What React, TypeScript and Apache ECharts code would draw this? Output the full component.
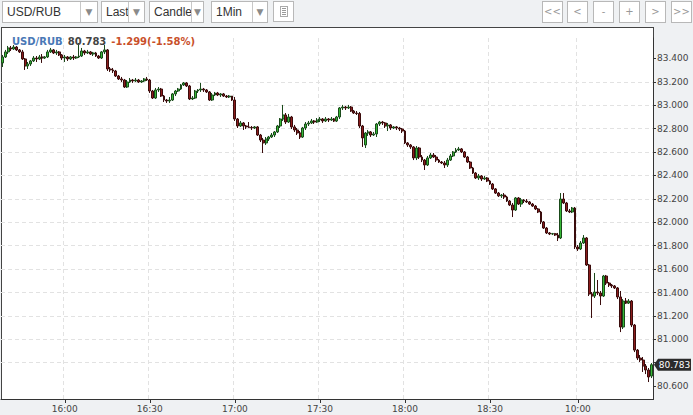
import React, { useEffect, useRef } from "react";
import * as echarts from "echarts";

// trading sessions (1-minute candles)
const sessions: [string, string][] = [
  ["15:38", "19:00"],
  ["10:00", "10:26"],
];
const xTickLabels = ["16:00", "16:30", "17:00", "17:30", "18:00", "18:30", "10:00"];
const yTicks = [80.6, 80.8, 81.0, 81.2, 81.4, 81.6, 81.8, 82.0, 82.2, 82.4, 82.6, 82.8, 83.0, 83.2, 83.4];
const yMin = 80.49;
const yMax = 83.575;
const symbolName = "USD/RUB";
const lastPrice = 80.783;
const change = -1.299;
const changePct = -1.58;

// [open, close, low, high]
const ohlc: number[][] = [
  [83.362, 83.413, 83.327, 83.430], [83.413, 83.456, 83.404, 83.473], [83.456, 83.490, 83.438, 83.507], [83.490, 83.481, 83.464, 83.507],
  [83.481, 83.498, 83.473, 83.515], [83.498, 83.473, 83.464, 83.507], [83.473, 83.456, 83.447, 83.481], [83.456, 83.396, 83.387, 83.473],
  [83.396, 83.336, 83.302, 83.404], [83.336, 83.353, 83.310, 83.370], [83.353, 83.379, 83.336, 83.387], [83.379, 83.404, 83.370, 83.421],
  [83.404, 83.396, 83.370, 83.421], [83.396, 83.413, 83.387, 83.430], [83.413, 83.404, 83.362, 83.438], [83.404, 83.413, 83.396, 83.421],
  [83.413, 83.456, 83.404, 83.473], [83.456, 83.473, 83.447, 83.490], [83.473, 83.447, 83.438, 83.481], [83.447, 83.456, 83.430, 83.473],
  [83.456, 83.430, 83.421, 83.464], [83.430, 83.404, 83.387, 83.438], [83.404, 83.413, 83.370, 83.430], [83.413, 83.396, 83.379, 83.421],
  [83.396, 83.413, 83.387, 83.421], [83.413, 83.404, 83.387, 83.430], [83.404, 83.413, 83.396, 83.421], [83.413, 83.421, 83.404, 83.532],
  [83.421, 83.464, 83.413, 83.490], [83.464, 83.447, 83.430, 83.473], [83.447, 83.456, 83.438, 83.473], [83.456, 83.438, 83.430, 83.464],
  [83.438, 83.447, 83.421, 83.456], [83.447, 83.421, 83.413, 83.456], [83.421, 83.404, 83.396, 83.430], [83.404, 83.456, 83.396, 83.464],
  [83.456, 83.473, 83.438, 83.515], [83.473, 83.310, 83.293, 83.481], [83.310, 83.302, 83.285, 83.327], [83.302, 83.293, 83.276, 83.319],
  [83.293, 83.250, 83.242, 83.302], [83.250, 83.225, 83.216, 83.259], [83.225, 83.216, 83.199, 83.242], [83.216, 83.156, 83.148, 83.225],
  [83.156, 83.199, 83.148, 83.216], [83.199, 83.216, 83.191, 83.233], [83.216, 83.208, 83.191, 83.225], [83.208, 83.216, 83.199, 83.233],
  [83.216, 83.199, 83.191, 83.225], [83.199, 83.208, 83.191, 83.216], [83.208, 83.225, 83.199, 83.233], [83.225, 83.216, 83.208, 83.242],
  [83.216, 83.122, 83.105, 83.225], [83.122, 83.062, 83.054, 83.131], [83.062, 83.131, 83.054, 83.148], [83.131, 83.139, 83.114, 83.156],
  [83.139, 83.079, 83.071, 83.148], [83.079, 83.045, 83.028, 83.088], [83.045, 83.037, 83.020, 83.054], [83.037, 83.045, 83.020, 83.071],
  [83.045, 83.097, 83.037, 83.105], [83.097, 83.122, 83.079, 83.131], [83.122, 83.139, 83.114, 83.148], [83.139, 83.174, 83.131, 83.182],
  [83.174, 83.191, 83.165, 83.199], [83.191, 83.165, 83.156, 83.199], [83.165, 83.054, 83.045, 83.174], [83.054, 83.062, 83.045, 83.079],
  [83.062, 83.122, 83.054, 83.131], [83.122, 83.131, 83.105, 83.139], [83.131, 83.139, 83.114, 83.191], [83.139, 83.131, 83.114, 83.148],
  [83.131, 83.114, 83.105, 83.139], [83.114, 83.045, 83.037, 83.122], [83.045, 83.088, 83.037, 83.105], [83.088, 83.105, 83.079, 83.114],
  [83.105, 83.088, 83.079, 83.114], [83.088, 83.097, 83.071, 83.105], [83.097, 83.079, 83.071, 83.105], [83.079, 83.071, 83.062, 83.088],
  [83.071, 83.079, 83.062, 83.088], [83.079, 83.045, 83.037, 83.079], [83.045, 82.883, 82.866, 83.071], [82.883, 82.823, 82.806, 82.891],
  [82.823, 82.849, 82.815, 82.866], [82.849, 82.823, 82.789, 82.857], [82.823, 82.815, 82.797, 82.832], [82.815, 82.811, 82.806, 82.857],
  [82.811, 82.806, 82.789, 82.823], [82.806, 82.815, 82.797, 82.823], [82.815, 82.746, 82.738, 82.823], [82.746, 82.703, 82.686, 82.755],
  [82.703, 82.678, 82.592, 82.721], [82.678, 82.712, 82.661, 82.729], [82.712, 82.729, 82.695, 82.738], [82.729, 82.746, 82.721, 82.763],
  [82.746, 82.772, 82.729, 82.780], [82.772, 82.823, 82.763, 82.832], [82.823, 82.883, 82.806, 82.891], [82.883, 82.917, 82.866, 83.003],
  [82.917, 82.857, 82.840, 82.934], [82.857, 82.900, 82.849, 82.926], [82.900, 82.815, 82.797, 82.909], [82.815, 82.789, 82.772, 82.832],
  [82.789, 82.763, 82.746, 82.806], [82.763, 82.729, 82.712, 82.780], [82.729, 82.806, 82.721, 82.815], [82.806, 82.840, 82.789, 82.857],
  [82.840, 82.849, 82.823, 82.866], [82.849, 82.866, 82.840, 82.883], [82.866, 82.857, 82.840, 82.874], [82.857, 82.874, 82.849, 82.891],
  [82.874, 82.883, 82.857, 82.900], [82.883, 82.866, 82.849, 82.891], [82.866, 82.883, 82.857, 82.900], [82.883, 82.874, 82.857, 82.891],
  [82.874, 82.883, 82.866, 82.900], [82.883, 82.866, 82.857, 82.891], [82.866, 82.900, 82.857, 82.909], [82.900, 82.977, 82.883, 82.985],
  [82.977, 82.985, 82.960, 83.003], [82.985, 82.977, 82.960, 82.994], [82.977, 82.985, 82.968, 83.003], [82.985, 82.951, 82.943, 82.994],
  [82.951, 82.934, 82.926, 82.960], [82.934, 82.930, 82.917, 82.951], [82.930, 82.823, 82.806, 82.943], [82.823, 82.721, 82.644, 82.832],
  [82.661, 82.763, 82.635, 82.772], [82.763, 82.772, 82.738, 82.789], [82.772, 82.746, 82.729, 82.780], [82.746, 82.755, 82.738, 82.772],
  [82.755, 82.840, 82.729, 82.849], [82.840, 82.857, 82.823, 82.866], [82.857, 82.849, 82.832, 82.866], [82.849, 82.823, 82.806, 82.857],
  [82.823, 82.832, 82.780, 82.849], [82.832, 82.806, 82.789, 82.840], [82.806, 82.815, 82.797, 82.823], [82.815, 82.806, 82.789, 82.823],
  [82.806, 82.797, 82.780, 82.815], [82.797, 82.780, 82.763, 82.806], [82.780, 82.678, 82.669, 82.789], [82.678, 82.661, 82.644, 82.686],
  [82.661, 82.644, 82.627, 82.669], [82.644, 82.550, 82.532, 82.652], [82.550, 82.635, 82.532, 82.652], [82.635, 82.558, 82.541, 82.644],
  [82.558, 82.532, 82.515, 82.575], [82.532, 82.490, 82.447, 82.541], [82.490, 82.550, 82.481, 82.567], [82.550, 82.575, 82.541, 82.592],
  [82.575, 82.558, 82.550, 82.592], [82.558, 82.532, 82.515, 82.575], [82.532, 82.515, 82.507, 82.541], [82.515, 82.507, 82.498, 82.524],
  [82.507, 82.490, 82.464, 82.524], [82.490, 82.532, 82.473, 82.550], [82.532, 82.567, 82.524, 82.584], [82.567, 82.601, 82.558, 82.609],
  [82.601, 82.618, 82.592, 82.635], [82.618, 82.627, 82.609, 82.644], [82.627, 82.601, 82.592, 82.635], [82.601, 82.558, 82.550, 82.609],
  [82.558, 82.515, 82.507, 82.567], [82.515, 82.464, 82.456, 82.524], [82.464, 82.421, 82.413, 82.473], [82.421, 82.379, 82.370, 82.430],
  [82.379, 82.396, 82.362, 82.413], [82.396, 82.370, 82.353, 82.404], [82.370, 82.379, 82.362, 82.396], [82.379, 82.353, 82.344, 82.387],
  [82.353, 82.327, 82.319, 82.362], [82.327, 82.285, 82.276, 82.336], [82.285, 82.250, 82.242, 82.293], [82.250, 82.226, 82.216, 82.259],
  [82.226, 82.233, 82.208, 82.242], [82.233, 82.216, 82.199, 82.250], [82.216, 82.182, 82.174, 82.226], [82.182, 82.148, 82.139, 82.191],
  [82.148, 82.105, 82.045, 82.165], [82.105, 82.208, 82.097, 82.216], [82.208, 82.156, 82.148, 82.216], [82.156, 82.191, 82.131, 82.208],
  [82.191, 82.182, 82.165, 82.199], [82.182, 82.174, 82.165, 82.199], [82.174, 82.156, 82.148, 82.182], [82.156, 82.139, 82.131, 82.165],
  [82.139, 82.114, 82.105, 82.148], [82.114, 82.088, 82.079, 82.122], [82.088, 82.003, 81.985, 82.097], [82.003, 81.951, 81.943, 82.011],
  [81.951, 81.909, 81.900, 81.960], [81.909, 81.900, 81.891, 81.917], [81.900, 81.903, 81.891, 81.909], [81.903, 81.891, 81.883, 81.909],
  [81.891, 81.866, 81.840, 81.909], [81.866, 82.199, 81.857, 82.250], [82.199, 82.165, 82.156, 82.250], [82.165, 82.097, 82.088, 82.174],
  [82.097, 82.088, 82.079, 82.114], [82.088, 82.122, 82.079, 82.131], [82.122, 81.789, 81.772, 82.131],
  [81.789, 81.772, 81.755, 81.806], [81.772, 81.823, 81.763, 81.840], [81.823, 81.866, 81.815, 81.891], [81.866, 81.635, 81.627, 81.874],
  [81.635, 81.387, 81.370, 81.644], [81.387, 81.370, 81.182, 81.404], [81.370, 81.404, 81.353, 81.567], [81.404, 81.396, 81.379, 81.507],
  [81.396, 81.370, 81.293, 81.413], [81.370, 81.541, 81.362, 81.550], [81.541, 81.481, 81.464, 81.550], [81.481, 81.464, 81.447, 81.490],
  [81.464, 81.456, 81.439, 81.473], [81.456, 81.439, 81.430, 81.464], [81.439, 81.362, 81.344, 81.447], [81.362, 81.105, 81.062, 81.413],
  [81.105, 81.327, 81.088, 81.344], [81.327, 81.310, 81.302, 81.353], [81.310, 81.327, 81.302, 81.344], [81.327, 81.122, 81.105, 81.336],
  [81.122, 80.908, 80.891, 81.131], [80.908, 80.840, 80.823, 80.917], [80.840, 80.823, 80.806, 80.866], [80.823, 80.772, 80.721, 80.849],
  [80.772, 80.738, 80.703, 80.789], [80.738, 80.678, 80.635, 80.755], [80.686, 80.783, 80.669, 80.797],
];

function buildTimes(): string[] {
  const out: string[] = [];
  const pad = (n: number) => String(n).padStart(2, "0");
  for (const [a, b] of sessions) {
    const [ah, am] = a.split(":").map(Number);
    const [bh, bm] = b.split(":").map(Number);
    for (let t = ah * 60 + am; t <= bh * 60 + bm; t++) {
      out.push(`${pad(Math.floor(t / 60))}:${pad(t % 60)}`);
    }
  }
  return out;
}

const times = buildTimes();
const showTime = (_i: number, v: string) => xTickLabels.includes(v);

const FONT = '"DejaVu Sans", Verdana, sans-serif';
const UI_FONT = '"Liberation Sans", Arial, sans-serif';

function Select(props: { left: number; width: number; sep: number; label: string }) {
  const { left, width, sep, label } = props;
  return (
    <div
      style={{
        position: "absolute", left, top: 1, width, height: 22, boxSizing: "border-box",
        border: "1px solid #b8b8b8", background: "#fff",
      }}
    >
      <div
        style={{
          position: "absolute", left: 4, top: 0, width: sep - 4, overflow: "hidden", whiteSpace: "nowrap",
          font: `12px ${UI_FONT}`, lineHeight: "20px", color: "#333",
        }}
      >
        {label}
      </div>
      <div
        style={{
          position: "absolute", left: sep, top: 0, bottom: 0, right: 0, borderLeft: "1px solid #c8c8c8",
          color: "#8a8a8a", fontSize: 9, lineHeight: "20px", textAlign: "center", fontFamily: FONT,
        }}
      >
        ▼
      </div>
    </div>
  );
}

const navButtons = ["<<", "<", "-", "+", ">", ">>"];
const navLefts = [542, 567, 593, 619, 645, 671];

export default function App() {
  const ref = useRef<HTMLDivElement>(null);

  useEffect(() => {
    document.body.style.margin = "0";
    const chart = echarts.init(ref.current!, undefined, { renderer: "svg" });
    const isTick = (v: number) => yTicks.some((t) => Math.abs(t - v) < 1e-6);
    // the label hidden behind the last-price tag
    const underTag = (v: number) => Math.abs(v - lastPrice) < 0.06;
    chart.setOption({
      animation: false,
      backgroundColor: "transparent",
      title: {
        left: 12,
        top: 32,
        padding: 0,
        text: `{a|${symbolName}} {b|${lastPrice.toFixed(3)}} {c|${change.toFixed(3)}(${changePct.toFixed(2)}%)}`,
        textStyle: {
          rich: {
            a: { color: "#4a78b6", fontWeight: "bold", fontSize: 10, fontFamily: FONT },
            b: { color: "#444", fontWeight: "bold", fontSize: 10, fontFamily: FONT },
            c: { color: "#c9502a", fontWeight: "bold", fontSize: 10, fontFamily: FONT },
          },
        },
      },
      grid: { left: 1, right: 40, top: 38, bottom: 16 },
      xAxis: {
        type: "category",
        data: times,
        boundaryGap: true,
        axisLine: { show: true, lineStyle: { color: "#333" } },
        axisTick: { show: true, length: 4, interval: showTime, alignWithLabel: true, lineStyle: { color: "#333" } },
        axisLabel: { interval: showTime, fontSize: 9, fontFamily: FONT, color: "#444", margin: 5 },
        splitLine: { show: true, interval: showTime, lineStyle: { color: "#e2e2e2", type: [4, 3] } },
      },
      yAxis: {
        type: "value",
        position: "right",
        min: yMin,
        max: yMax,
        splitNumber: 15,
        axisLine: { show: true, lineStyle: { color: "#333" } },
        axisTick: { show: true, length: 3, customValues: yTicks, lineStyle: { color: "#333" } },
        axisLabel: {
          customValues: yTicks.filter((t) => !underTag(t)),
          margin: 4,
          fontSize: 9,
          fontFamily: FONT,
          color: "#444",
          formatter: (v: number) => (isTick(v) && !underTag(v) ? v.toFixed(3) : ""),
        },
        splitLine: { show: true, showMinLine: false, showMaxLine: false, lineStyle: { color: "#e2e2e2", type: [4, 3] } },
      },
      series: [
        {
          type: "candlestick",
          data: ohlc,
          barWidth: 2.4,
          itemStyle: {
            color: "#36b836",
            color0: "#8c1c1c",
            borderColor: "#1a4a1a",
            borderColor0: "#3a0c0c",
            borderWidth: 1,
          },
        },
      ],
    });
    const y = chart.convertToPixel({ yAxisIndex: 0 }, lastPrice) as number;
    chart.setOption({
      graphic: [
        {
          type: "polygon",
          z: 100,
          shape: { points: [[654, y], [658, y - 6], [691, y - 6], [691, y + 6], [658, y + 6]] },
          style: { fill: "#2b2b2b" },
        },
        {
          type: "text",
          z: 101,
          x: 674.5,
          y,
          style: {
            text: lastPrice.toFixed(3), fill: "#fff", font: `9px ${FONT}`,
            textAlign: "center", textVerticalAlign: "middle",
          },
        },
      ],
    });
    return () => chart.dispose();
  }, []);

  return (
    <div style={{ position: "fixed", left: 0, top: 0, width: 693, height: 415, background: "#eff1f3", overflow: "hidden" }}>
      <div
        style={{
          position: "absolute", left: 1, top: 27, width: 653, height: 373, boxSizing: "border-box",
          background: "#fff", border: "1px solid #444",
        }}
      />
      <div ref={ref} style={{ position: "absolute", left: 0, top: 0, width: 693, height: 415 }} />
      <Select left={2} width={96} sep={77} label="USD/RUB" />
      <Select left={101} width={44} sep={26} label="Last" />
      <Select left={149} width={55} sep={41} label="Candle" />
      <Select left={211} width={57} sep={40} label="1Min" />
      <div
        style={{
          position: "absolute", left: 273, top: 1, width: 21, height: 21, boxSizing: "border-box",
          border: "1px solid #b8b8b8", background: "#fff",
        }}
      >
        <div style={{ position: "absolute", left: 6, top: 4, width: 8, height: 11, boxSizing: "border-box", border: "1px solid #aaa" }}>
          {[1, 3, 5, 7].map((t) => (
            <div key={t} style={{ position: "absolute", left: 1, top: t, width: 4, height: 1, background: "#999" }} />
          ))}
        </div>
      </div>
      {navButtons.map((b, i) => (
        <div
          key={b + i}
          style={{
            position: "absolute", left: navLefts[i], top: 1, width: 21, height: 22, boxSizing: "border-box",
            border: "1px solid #b8b8b8", background: "#fff", color: "#999", fontSize: 10,
            fontFamily: FONT, lineHeight: "20px", textAlign: "center",
          }}
        >
          {b}
        </div>
      ))}
    </div>
  );
}
